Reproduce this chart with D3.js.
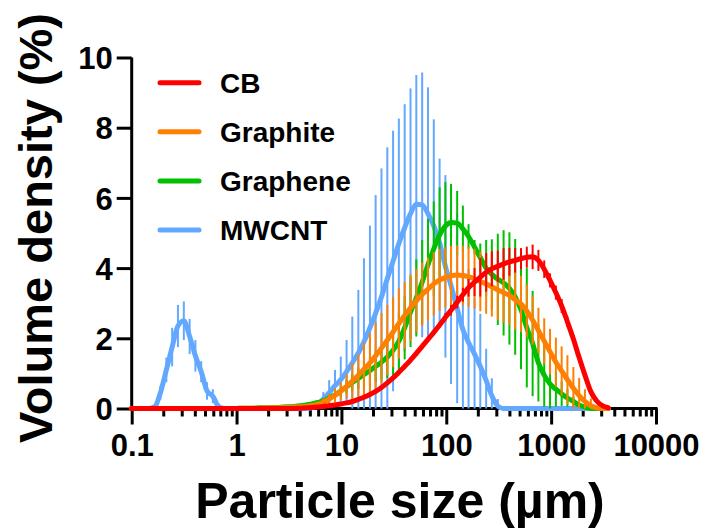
<!DOCTYPE html>
<html>
<head>
<meta charset="utf-8">
<script src="https://cdn.jsdelivr.net/npm/d3@7"></script>
<style>
  html, body { margin: 0; padding: 0; background: #fff; }
  svg text { font-family: "Liberation Sans", Arial, sans-serif; font-weight: bold; fill: #000; }
</style>
</head>
<body>
<svg id="chart" width="707" height="531"></svg>
<script>
// Particle size bins (µm)
const sizes = [
  0.0995, 0.113, 0.128, 0.146, 0.166, 0.188, 0.214, 0.243, 0.276, 0.314,
  0.357, 0.405, 0.46, 0.523, 0.594, 0.675, 0.767, 0.872, 0.991, 1.13,
  1.28, 1.45, 1.65, 1.88, 2.13, 2.42, 2.75, 3.12, 3.55, 4.03,
  4.58, 5.21, 5.92, 6.72, 7.64, 8.68, 9.86, 11.2, 12.7, 14.5,
  16.4, 18.7, 21.2, 24.1, 27.4, 31.1, 35.3, 40.1, 45.6, 51.8,
  58.9, 66.9, 76, 86.4, 98.1, 111, 127, 144, 163, 186,
  211, 240, 272, 310, 352, 400, 454, 516, 586, 666,
  756, 859, 976, 1110, 1260, 1430, 1630, 1850, 2100, 2390,
  2710, 3080, 3500
];

const seriesNames = ["CB", "Graphite", "Graphene", "MWCNT"];

const mwcntMean = [
  0, 0, 0, 0, 0.05, 0.45, 1.1, 1.75, 2.35, 2.5,
  2.05, 1.5, 1.05, 0.5, 0.35, 0.05, 0, 0, 0, 0,
  0, 0, 0, 0, 0, 0, 0, 0, 0, 0,
  0, 0.02, 0.1, 0.27, 0.45, 0.65, 0.82, 1.05, 1.3, 1.58,
  1.9, 2.3, 2.72, 3.18, 3.7, 4.2, 4.7, 5.15, 5.55, 5.82,
  5.8, 5.55, 5.2, 4.72, 4.05, 3.5, 2.85, 2.25, 1.88, 1.55,
  1.2, 0.8, 0.36, 0.07, 0, 0, 0, 0, 0, 0,
  0, 0, 0, 0, 0, 0, 0, 0, 0, 0,
  0, 0, 0
];
const mwcntSD = [
  0, 0, 0, 0, 0.05, 0.2, 0.35, 0.55, 0.6, 0.55,
  0.5, 0.45, 0.3, 0.25, 0.2, 0.1, 0, 0, 0, 0,
  0, 0, 0, 0, 0, 0, 0, 0, 0, 0,
  0, 0.02, 0.1, 0.2, 0.36, 0.45, 0.66, 0.9, 1.32, 1.8,
  2.38, 2.91, 3.36, 3.66, 3.74, 3.71, 3.56, 3.52, 3.57, 3.68,
  3.77, 3.6, 3.04, 2.4, 2.6, 2.8, 2.7, 2.4, 2.1, 1.6,
  1.5, 0.9, 0.5, 0.2, 0, 0, 0, 0, 0, 0,
  0, 0, 0, 0, 0, 0, 0, 0, 0, 0,
  0, 0, 0
];

const grapheneMean = [
  0, 0, 0, 0, 0, 0, 0, 0, 0, 0,
  0, 0, 0, 0, 0, 0, 0, 0, 0, 0.01,
  0.01, 0.01, 0.02, 0.02, 0.03, 0.03, 0.04, 0.05, 0.06, 0.08,
  0.1, 0.13, 0.17, 0.22, 0.3, 0.39, 0.5, 0.62, 0.74, 0.86,
  0.97, 1.08, 1.2, 1.32, 1.47, 1.66, 1.92, 2.3, 2.75, 3.15,
  3.6, 4.1, 4.55, 4.95, 5.2, 5.3, 5.28, 5.12, 4.9, 4.6,
  4.3, 4.0, 3.82, 3.68, 3.58, 3.42, 3.18, 2.82, 2.3, 1.85,
  1.3, 0.95, 0.7, 0.55, 0.42, 0.3, 0.2, 0.1, 0.04, 0,
  0, 0, 0
];
const grapheneSD = [
  0, 0, 0, 0, 0, 0, 0, 0, 0, 0,
  0, 0, 0, 0, 0, 0, 0, 0, 0, 0,
  0, 0, 0, 0, 0, 0, 0, 0, 0, 0,
  0, 0.03, 0.05, 0.08, 0.1, 0.13, 0.16, 0.2, 0.25, 0.3,
  0.35, 0.4, 0.45, 0.5, 0.6, 0.7, 0.8, 0.9, 1.0, 1.1,
  1.2, 1.3, 1.35, 1.35, 1.25, 1.1, 0.92, 0.66, 0.35, 0.2,
  0.4, 0.8, 1.0, 1.3, 1.5, 1.6, 1.65, 1.7, 1.7, 1.5,
  1.1, 0.9, 0.7, 0.5, 0.35, 0.25, 0.15, 0.08, 0.04, 0,
  0, 0, 0
];

const graphiteMean = [
  0, 0, 0, 0, 0, 0, 0, 0, 0, 0,
  0, 0, 0, 0, 0, 0, 0, 0, 0, 0.01,
  0.01, 0.01, 0.01, 0.02, 0.02, 0.02, 0.03, 0.03, 0.04, 0.05,
  0.06, 0.08, 0.12, 0.18, 0.27, 0.37, 0.49, 0.63, 0.78, 0.95,
  1.12, 1.3, 1.5, 1.72, 1.95, 2.18, 2.42, 2.65, 2.87, 3.07,
  3.25, 3.4, 3.55, 3.66, 3.73, 3.78, 3.8, 3.79, 3.75, 3.7,
  3.62, 3.55, 3.47, 3.38, 3.3, 3.22, 3.1, 2.98, 2.78, 2.52,
  2.22, 1.92, 1.62, 1.32, 1.07, 0.82, 0.58, 0.37, 0.2, 0.08,
  0.02, 0, 0
];
const graphiteSD = [
  0, 0, 0, 0, 0, 0, 0, 0, 0, 0,
  0, 0, 0, 0, 0, 0, 0, 0, 0, 0,
  0, 0, 0, 0, 0, 0, 0, 0, 0, 0,
  0, 0.05, 0.07, 0.1, 0.15, 0.2, 0.25, 0.35, 0.5, 0.6,
  0.75, 0.85, 0.95, 1.0, 1.0, 1.0, 1.0, 0.95, 0.95, 0.9,
  0.9, 0.9, 0.9, 0.88, 0.86, 0.85, 0.85, 0.85, 0.85, 0.85,
  0.85, 0.85, 0.85, 0.85, 0.85, 0.85, 0.85, 0.8, 0.75, 0.7,
  0.65, 0.65, 0.65, 0.7, 0.7, 0.7, 0.6, 0.5, 0.35, 0.2,
  0.05, 0, 0
];

const cbMean = [
  0, 0, 0, 0, 0, 0, 0, 0, 0, 0,
  0, 0, 0, 0, 0, 0, 0, 0, 0, 0,
  0, 0, 0, 0, 0, 0, 0, 0, 0, 0.01,
  0.02, 0.03, 0.04, 0.06, 0.08, 0.1, 0.13, 0.16, 0.2, 0.26,
  0.32, 0.4, 0.49, 0.6, 0.73, 0.87, 1.03, 1.2, 1.38, 1.57,
  1.77, 1.97, 2.17, 2.38, 2.6, 2.8, 3.03, 3.24, 3.44, 3.6,
  3.74, 3.88, 3.98, 4.05, 4.12, 4.18, 4.22, 4.27, 4.31, 4.32,
  4.22, 3.97, 3.65, 3.3, 2.92, 2.47, 1.98, 1.45, 0.95, 0.48,
  0.22, 0.08, 0.02
];
const cbSD = [
  0, 0, 0, 0, 0, 0, 0, 0, 0, 0,
  0, 0, 0, 0, 0, 0, 0, 0, 0, 0,
  0, 0, 0, 0, 0, 0, 0, 0, 0, 0,
  0, 0, 0, 0, 0, 0, 0.05, 0.05, 0.05, 0.05,
  0.05, 0.05, 0.05, 0.05, 0.05, 0.05, 0.08, 0.08, 0.08, 0.08,
  0.08, 0.08, 0.08, 0.08, 0.12, 0.15, 0.18, 0.2, 0.25, 0.4,
  0.55, 0.55, 0.5, 0.45, 0.45, 0.4, 0.35, 0.3, 0.3, 0.35,
  0.3, 0.25, 0.2, 0.2, 0.2, 0.15, 0.12, 0.1, 0.08, 0.05,
  0.02, 0.02, 0.02
];

const xTickValues = [0.1, 1, 10, 100, 1000, 10000];
const xTickLabels = ["0.1", "1", "10", "100", "1000", "10000"];
const yTickValues = [0, 2, 4, 6, 8, 10];

const colors = { "CB": "#FF0000", "Graphite": "#FF8000", "Graphene": "#00C000", "MWCNT": "#62A8FF" };

const series = [
  { name: "MWCNT", mean: mwcntMean, sd: mwcntSD },
  { name: "Graphene", mean: grapheneMean, sd: grapheneSD },
  { name: "Graphite", mean: graphiteMean, sd: graphiteSD },
  { name: "CB", mean: cbMean, sd: cbSD }
];

const svg = d3.select("#chart");
const x = d3.scaleLog().domain([0.1, 10000]).range([131.7, 656]);
const y = d3.scaleLinear().domain([0, 10]).range([408.5, 57.5]);

// minor ticks
const minorTicks = [];
for (let e = -1; e < 4; e++) for (let m = 2; m <= 9; m++) minorTicks.push(m * Math.pow(10, e));

const gxMinor = svg.append("g").attr("transform", `translate(0,${y(0)})`)
  .call(d3.axisBottom(x).tickValues(minorTicks).tickSize(8).tickFormat(""));
const gx = svg.append("g").attr("transform", `translate(0,${y(0)})`)
  .call(d3.axisBottom(x).tickValues(xTickValues).tickSize(16).tickPadding(9)
    .tickFormat((d, i) => xTickLabels[i]));
const gy = svg.append("g").attr("transform", `translate(${x(0.1)},0)`)
  .call(d3.axisLeft(y).tickValues(yTickValues).tickSize(15).tickPadding(4));

[gxMinor, gx, gy].forEach(g => {
  g.select(".domain").attr("stroke", "#000").attr("stroke-width", 3)
    .attr("d", g === gy ? `M0,${y(10)}V${y(0) + 1.5}` : `M${x(0.1) - 1.5},0H${x(10000) + 1.5}`);
  g.selectAll(".tick line").attr("stroke", "#000").attr("stroke-width", 3);
});
gxMinor.select(".domain").remove();
gx.selectAll(".tick text").attr("font-size", 31).attr("dy", "0.71em");
gy.selectAll(".tick text").attr("font-size", 31).attr("dy", "0.36em");
gx.selectAll("text").style("font-family", '"Liberation Sans", Arial, sans-serif').style("font-weight", "bold").attr("fill", "#000");
gy.selectAll("text").style("font-family", '"Liberation Sans", Arial, sans-serif').style("font-weight", "bold").attr("fill", "#000");

// data
const line = d3.line().x(d => x(d.s)).y(d => y(d.v)).curve(d3.curveMonotoneX);
series.forEach(s => {
  const pts = sizes.map((sz, i) => ({ s: sz, v: s.mean[i], e: s.sd[i] }));
  const g = svg.append("g");
  g.selectAll("line.err").data(pts.filter(p => p.e > 0)).join("line")
    .attr("class", "err")
    .attr("x1", d => x(d.s)).attr("x2", d => x(d.s))
    .attr("y1", d => y(Math.max(0, d.v - d.e))).attr("y2", d => y(d.v + d.e))
    .attr("stroke", colors[s.name]).attr("stroke-width", 2);
  g.append("path").datum(pts).attr("d", line)
    .attr("fill", "none").attr("stroke", colors[s.name]).attr("stroke-width", 5)
    .attr("stroke-linejoin", "round").attr("stroke-linecap", "round");
});

// legend
const legend = svg.append("g");
seriesNames.forEach((n, i) => {
  const ly = 82.7 + i * 49.1;
  legend.append("line").attr("x1", 160).attr("x2", 199).attr("y1", ly).attr("y2", ly)
    .attr("stroke", colors[n]).attr("stroke-width", 5).attr("stroke-linecap", "round");
  legend.append("text").attr("x", 220).attr("y", ly).attr("dy", "0.36em")
    .attr("font-size", 28).text(n);
});

// axis titles
svg.append("text").attr("x", 400).attr("y", 518).attr("text-anchor", "middle")
  .attr("font-size", 50).text("Particle size (µm)");
svg.append("text").attr("transform", "translate(52,228) rotate(-90)").attr("text-anchor", "middle")
  .attr("font-size", 47).text("Volume density (%)");
</script>
</body>
</html>
